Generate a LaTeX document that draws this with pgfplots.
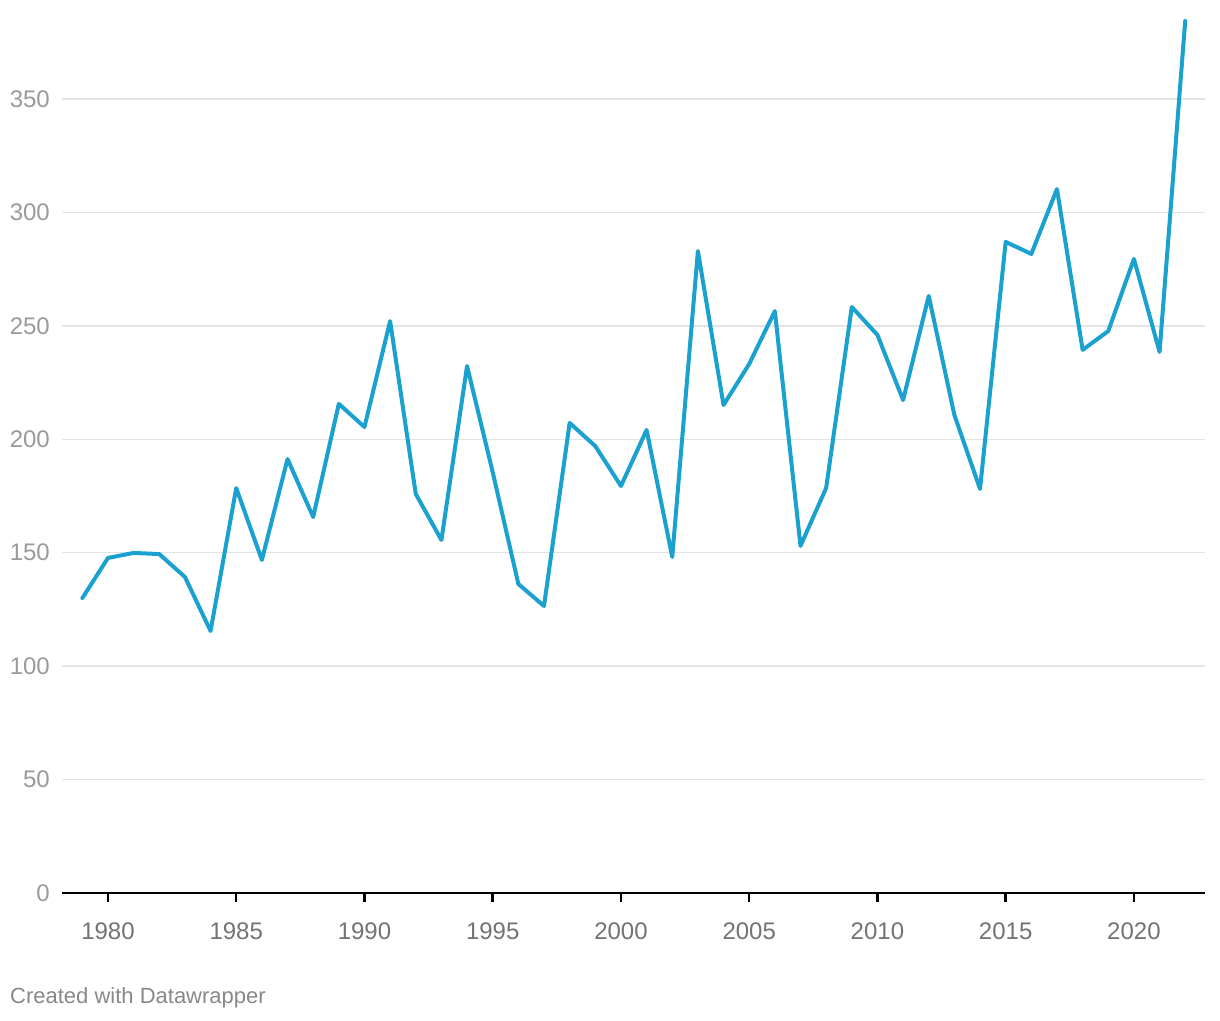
\documentclass[border=0pt]{standalone}
\usepackage{pgfplots}
\pgfplotsset{compat=1.18}
\usepackage{fontspec}
\setmainfont{Liberation Sans}
\definecolor{series}{HTML}{1BA1CF}
\definecolor{gridc}{HTML}{E3E3E3}
\definecolor{ylab}{HTML}{9A9A9A}
\definecolor{xlab}{HTML}{737373}
\definecolor{foot}{HTML}{888888}
\begin{document}
\begin{tikzpicture}[x=1pt,y=1pt]
\useasboundingbox (0,0) rectangle (1220,1020);
\begin{axis}[
  at={(62pt,127pt)}, anchor=south west,
  scale only axis, width=1143pt, height=873.4pt,
  xmin=1978.207, xmax=2022.77, ymin=0, ymax=385,
  clip=false,
  axis x line*=bottom, axis y line*=left,
  x axis line style={-, black, line width=2.5pt},
  y axis line style={draw=none},
  xtick={1980,1985,...,2020},
  ytick={0,50,...,350},
  tick align=outside,
  major tick length=9pt,
  xtick style={black, line width=2.5pt},
  ytick style={draw=none},
  xmajorgrids=false,
  ymajorgrids=true,
  major grid style={draw=gridc, line width=1.5pt},
  /pgf/number format/assume math mode=true,
  /pgf/number format/1000 sep={},
  xticklabel style={font=\fontsize{24}{28}\selectfont, text=xlab, inner sep=0pt, yshift=-21pt},
  yticklabel style={font=\fontsize{24}{28}\selectfont, text=ylab, inner sep=0pt, anchor=east, xshift=-3pt},
]
\addplot[series, line width=4pt, line join=round, line cap=round] coordinates {
(1979,130.0) (1980,147.7) (1981,149.9) (1982,149.4) (1983,139.3) (1984,115.5)
(1985,178.5) (1986,146.8) (1987,191.3) (1988,165.7) (1989,215.6) (1990,205.4)
(1991,252.1) (1992,175.9) (1993,155.6) (1994,232.3) (1995,185.5) (1996,136.2)
(1997,126.5) (1998,207.2) (1999,197.0) (2000,179.4) (2001,204.1) (2002,148.1)
(2003,283.0) (2004,215.1) (2005,233.2) (2006,256.5) (2007,153.0) (2008,178.5)
(2009,258.3) (2010,246.0) (2011,217.3) (2012,263.2) (2013,210.7) (2014,178.1)
(2015,287.0) (2016,281.7) (2017,310.3) (2018,239.4) (2019,247.7) (2020,279.5)
(2021,238.5) (2022,384.4)
};
\end{axis}
\node[anchor=west, inner sep=0pt, text=foot, font=\fontsize{22}{26}\selectfont] at (10,22) {Created with Datawrapper};
\end{tikzpicture}
\end{document}
